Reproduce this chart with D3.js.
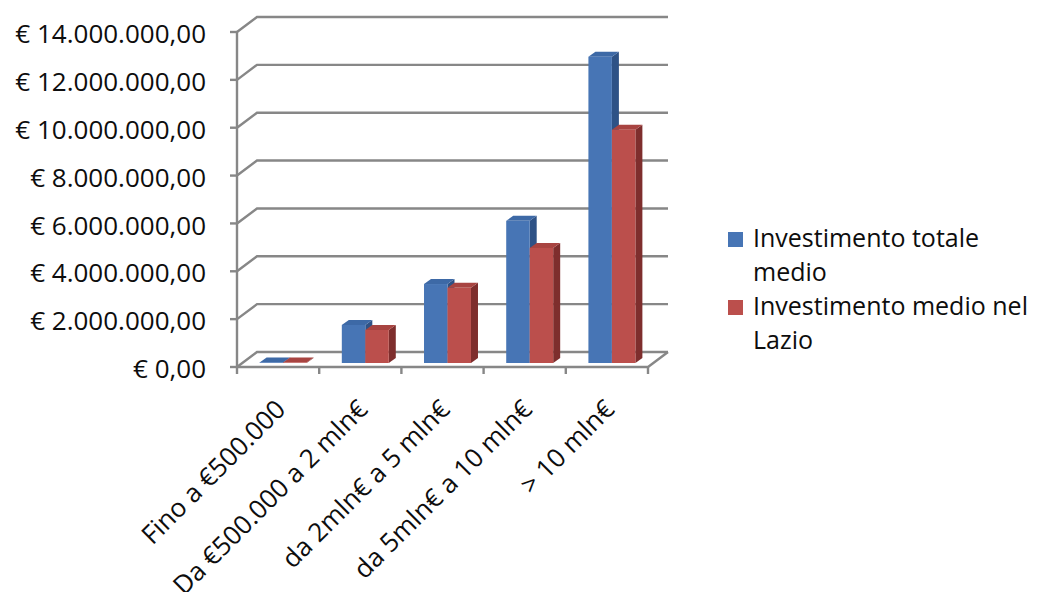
<!DOCTYPE html>
<html>
<head>
<meta charset="utf-8">
<script src="https://cdn.jsdelivr.net/npm/d3@7"></script>
<style>
  html, body { margin: 0; padding: 0; background: #fff; }
  svg { display: block; }
  text { font-family: "Open Sans", "DejaVu Sans", sans-serif; fill: #0d0d0d; }
</style>
</head>
<body>
<svg id="chart" width="1045" height="592"></svg>
<script>
// Fasce di investimento (categorie) e valori medi per serie
const categories = ["Fino a €500.000", "Da €500.000 a 2 mln€", "da 2mln€ a 5 mln€", "da 5mln€ a 10 mln€", "> 10 mln€"];
const seriesNames = ["Investimento totale medio", "Investimento medio nel Lazio"];
const totaleMedio = [25000, 1590000, 3300000, 5940000, 12800000];
const medioLazio = [20000, 1380000, 3140000, 4810000, 9750000];
const yTicks = [0, 2000000, 4000000, 6000000, 8000000, 10000000, 12000000, 14000000];

const svg = d3.select("#chart");

// Front plane of the 3D box
const plotLeft = 237, plotRight = 648, plotBottom = 367, plotTop = 32;
// Depth of the walls (back wall offset)
const wallDX = 20, wallDY = -15;
// Position of the bars inside the box and their own depth
const barOffX = 5, barOffY = -4;
const barDX = 7, barDY = -5;

const y = d3.scaleLinear().domain([0, 14000000]).range([plotBottom, plotTop]);
const x = d3.scaleBand().domain(categories).range([plotLeft, plotRight]).paddingInner(0).paddingOuter(0);
const xs = d3.scaleBand().domain(seriesNames).range([0, x.bandwidth()]).paddingOuter(0.75).paddingInner(0);

const gridColor = "#878787";

// Back wall gridlines with side-wall diagonals
const grid = svg.append("g").attr("fill", "none").attr("stroke", gridColor).attr("stroke-width", 2.4);
yTicks.forEach(t => {
  const yy = y(t);
  grid.append("path").attr("d", d3.line()([
    [plotLeft, yy], [plotLeft + wallDX, yy + wallDY], [plotRight + wallDX, yy + wallDY]
  ]));
});
// Floor: front edge and right edge
grid.append("path").attr("d", d3.line()([
  [plotLeft, plotBottom], [plotRight, plotBottom], [plotRight + wallDX, plotBottom + wallDY]
]));

// Value axis line and tick marks
grid.append("line").attr("x1", plotLeft).attr("x2", plotLeft).attr("y1", plotTop).attr("y2", plotBottom);
yTicks.forEach(t => {
  grid.append("line").attr("x1", plotLeft - 7).attr("x2", plotLeft).attr("y1", y(t)).attr("y2", y(t));
});
// Category boundary ticks
const bounds = categories.map(c => x(c)).concat([plotRight]);
bounds.forEach(bx => {
  grid.append("line").attr("x1", bx).attr("x2", bx).attr("y1", plotBottom).attr("y2", plotBottom + 7);
});

// Value axis labels
const fmt = v => "€ " + d3.format(",.2f")(v).replace(/,/g, "#").replace(".", ",").replace(/#/g, ".");
svg.append("g").selectAll("text").data(yTicks).join("text")
  .attr("x", 206)
  .attr("y", d => y(d) + 2)
  .attr("dy", "0.35em")
  .attr("text-anchor", "end")
  .attr("font-size", 26)
  .text(d => fmt(d));

// 3D bars: front face, right side, top
const colors = {
  "Investimento totale medio": { front: "#4775b5", side: "#2e5286", top: "#3d69a6" },
  "Investimento medio nel Lazio": { front: "#bb4f4c", side: "#7e2e2d", top: "#a84441" }
};
const rows = [];
categories.forEach((c, i) => {
  rows.push({ cat: c, s: seriesNames[0], v: totaleMedio[i] });
  rows.push({ cat: c, s: seriesNames[1], v: medioLazio[i] });
});

const bars = svg.append("g");
rows.forEach(r => {
  const x0 = x(r.cat) + xs(r.s) + barOffX;
  const x1 = x0 + xs.bandwidth();
  const yb = y(0) + barOffY;
  const yt = y(r.v) + barOffY;
  const c = colors[r.s];
  const g = bars.append("g");
  // right side
  g.append("path").attr("fill", c.side).attr("d", d3.line()([
    [x1, yt], [x1 + barDX, yt + barDY], [x1 + barDX, yb + barDY], [x1, yb]
  ]) + "Z");
  // top
  g.append("path").attr("fill", c.top).attr("d", d3.line()([
    [x0, yt], [x0 + barDX, yt + barDY], [x1 + barDX, yt + barDY], [x1, yt]
  ]) + "Z");
  // front
  g.append("rect").attr("fill", c.front)
    .attr("x", x0).attr("y", yt).attr("width", x1 - x0).attr("height", Math.max(0, yb - yt));
});

// Category labels, rotated
svg.append("g").selectAll("text").data(categories).join("text")
  .attr("transform", d => `translate(${x(d) + x.bandwidth() / 2 + 9},${plotBottom + 44}) rotate(-45)`)
  .attr("text-anchor", "end")
  .attr("font-size", 26)
  .text(d => d);

// Legend
const legend = svg.append("g");
const legendItems = [
  { name: seriesNames[0], lines: ["Investimento totale", "medio"], color: colors[seriesNames[0]].front, y: 232 },
  { name: seriesNames[1], lines: ["Investimento medio nel", "Lazio"], color: colors[seriesNames[1]].front, y: 300 }
];
legendItems.forEach(it => {
  legend.append("rect").attr("x", 728).attr("y", it.y).attr("width", 15).attr("height", 15).attr("fill", it.color);
  const t = legend.append("text").attr("x", 753).attr("y", it.y + 15).attr("font-size", 25);
  it.lines.forEach((l, i) => {
    t.append("tspan").attr("x", 753).attr("dy", i === 0 ? 0 : 34).text(l);
  });
});
</script>
</body>
</html>
